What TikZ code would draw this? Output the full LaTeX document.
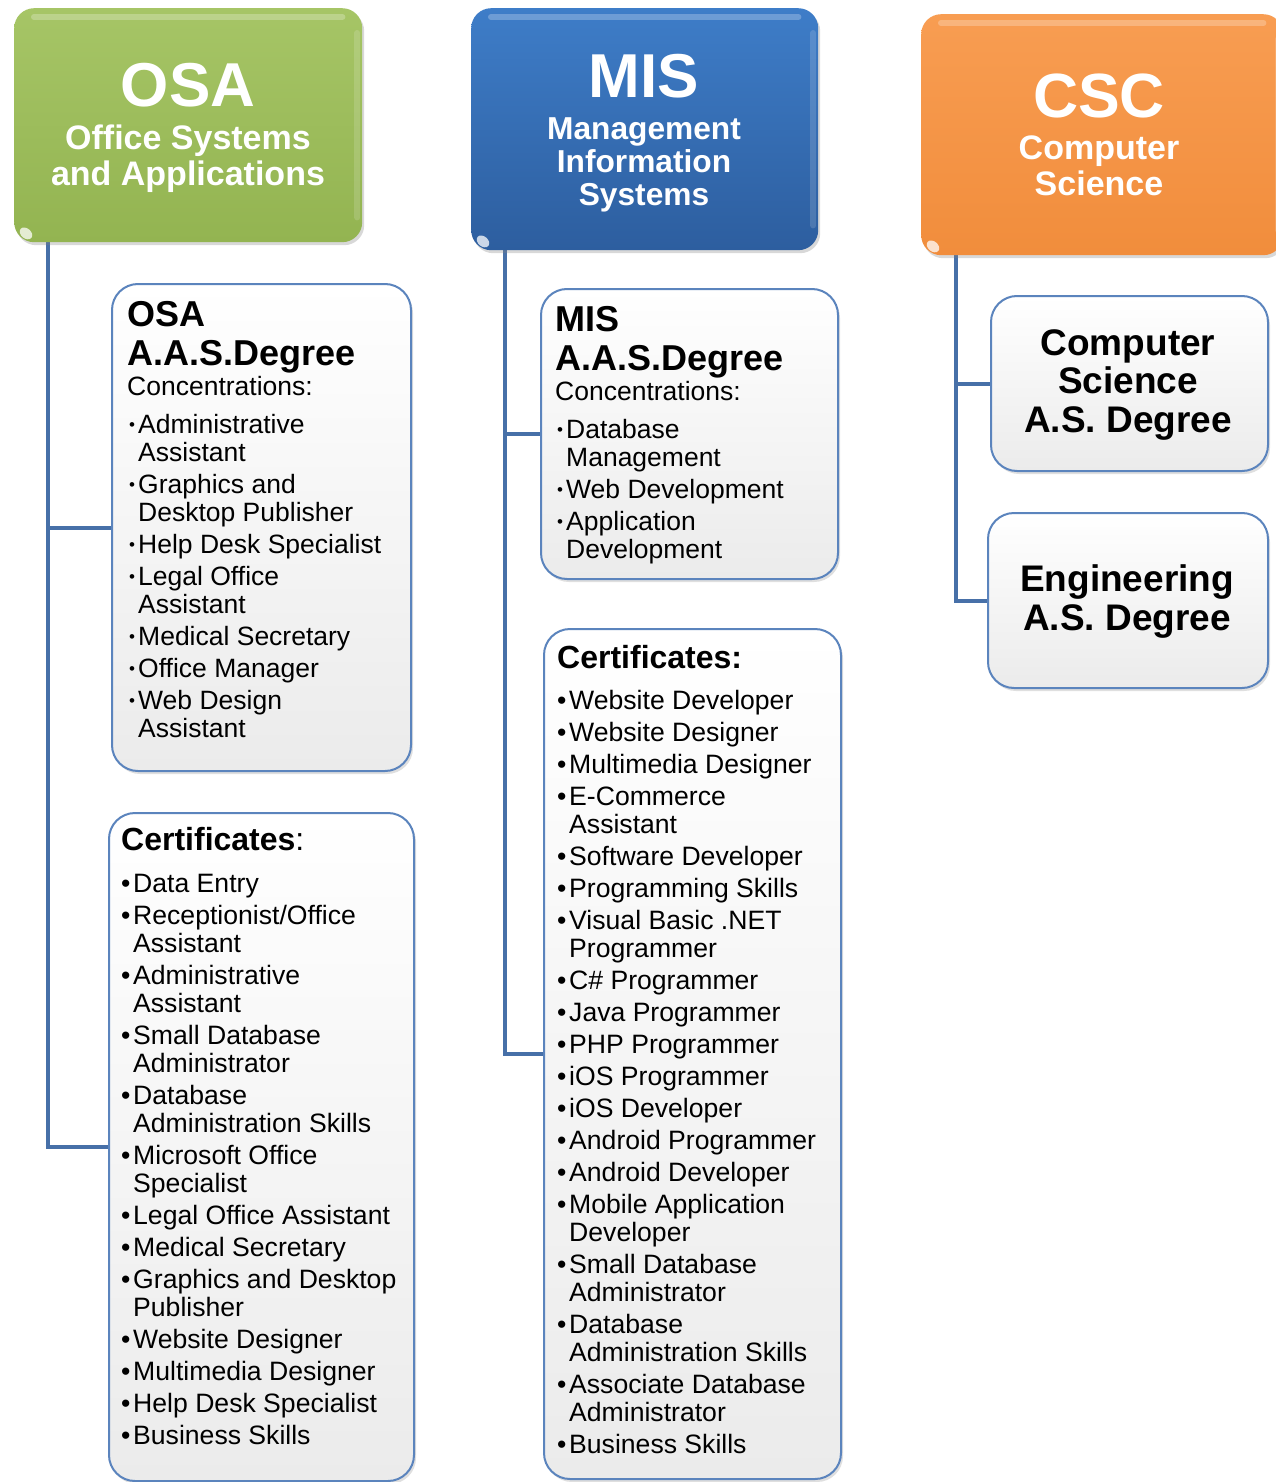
\documentclass[tikz,border=0pt]{standalone}
\usepackage{fontspec}
\setmainfont{Liberation Sans}
\usetikzlibrary{shadows,backgrounds}
\definecolor{osaTop}{HTML}{A6C566}
\definecolor{osaBot}{HTML}{93B451}
\definecolor{misTop}{HTML}{3E7DC8}
\definecolor{misBot}{HTML}{2D5E9F}
\definecolor{cscTop}{HTML}{F89D52}
\definecolor{cscBot}{HTML}{F18D3C}
\definecolor{boxline}{HTML}{5B84BD}
\definecolor{boxbot}{HTML}{EBEBEB}
\definecolor{connc}{HTML}{4770A8}
\newcommand{\dgi}[1]{\par\hangindent=11pt\hangafter=1\noindent\makebox[11pt][l]{\hspace{2pt}\raisebox{2.5pt}{\fontsize{17}{17}\selectfont •}}{\def\\{\hfil\break}#1}\par}
\newcommand{\cti}[1]{\par\hangindent=12pt\hangafter=1\noindent\makebox[12pt][l]{•}{\def\\{\hfil\break}#1}\par}
\begin{document}
\begin{tikzpicture}[x=1pt,y=-1pt,
  hdr/.style={anchor=north west, rounded corners=20pt, inner sep=0pt, draw=none,
    drop shadow={opacity=0.3, shadow xshift=2pt, shadow yshift=-3pt}},
  cbox/.style={anchor=north west, draw=boxline, line width=2pt, rounded corners=26pt,
    top color=white, bottom color=boxbot, inner sep=0pt,
    drop shadow={opacity=0.25, shadow xshift=2pt, shadow yshift=-3pt}},
  conn/.style={draw=connc, line width=4pt},
  txt/.style={anchor=base west, inner sep=0pt},
  htxt/.style={anchor=base, inner sep=0pt},
  gloss/.style={draw=white, opacity=0.25, line width=6pt, line cap=round},
  glossdot/.style={fill=white, opacity=0.75}
]
\useasboundingbox (0,0) rectangle (1275,1482);

% header boxes
\node[hdr, top color=osaTop, bottom color=osaBot, minimum width=348pt, minimum height=234pt] (osa) at (14,8) {};
\node[hdr, top color=misTop, bottom color=misBot, minimum width=347pt, minimum height=242pt] (mis) at (471,8) {};
\node[hdr, top color=cscTop, bottom color=cscBot, minimum width=362pt, minimum height=241pt] (csc) at (921,14) {};

\foreach \h in {osa,mis,csc}{
  \draw[gloss] ([shift={(20,9)}]\h.north west) -- ([shift={(-20,9)}]\h.north east);
  \draw[gloss, opacity=0.15] ([shift={(-5,25)}]\h.north east) -- ([shift={(-5,-25)}]\h.south east);
  \fill[glossdot] ([shift={(12,-9)}]\h.south west) ellipse [x radius=7pt, y radius=5pt, rotate=-40];
}

% header texts
\node[htxt, text=white] (osatxt) at (188,107) {\begin{minipage}[t]{340pt}\centering\bfseries
  \fontsize{62}{62}\selectfont OSA\par
  \fontsize{34}{43}\selectfont Office Systems\par
  \fontsize{34}{36}\selectfont and Applications\par\end{minipage}};
\node[htxt, text=white] (mistxt) at (644,98) {\begin{minipage}[t]{340pt}\centering\bfseries
  \fontsize{62}{62}\selectfont MIS\par
  \fontsize{31.7}{42}\selectfont Management\par
  \fontsize{31.7}{33}\selectfont Information\par Systems\par\end{minipage}};
\node[htxt, text=white] (csctxt) at (1099,118) {\begin{minipage}[t]{340pt}\centering\bfseries
  \fontsize{62.5}{62}\selectfont CSC\par
  \fontsize{34}{42}\selectfont Computer\par
  \fontsize{34}{36}\selectfont Science\par\end{minipage}};

% content boxes
\node[cbox, minimum width=299pt, minimum height=487pt] (osadeg) at (111,283) {};
\node[cbox, minimum width=305pt, minimum height=668pt] (osacert) at (108,812) {};
\node[cbox, minimum width=297pt, minimum height=290pt] (misdeg) at (540,288) {};
\node[cbox, minimum width=297pt, minimum height=850pt] (miscert) at (543,628) {};
\node[cbox, minimum width=277pt, minimum height=175pt] (csdeg) at (990,295) {};
\node[cbox, minimum width=280pt, minimum height=175pt] (engdeg) at (987,512) {};

% OSA degree text
\node[txt] (osadegtxt) at (127,326) {\begin{minipage}[t]{275pt}\raggedright
  \fontsize{36}{39}\selectfont\bfseries OSA\par A.A.S.Degree\par
  \mdseries\fontsize{26.5}{30}\selectfont Concentrations:\par
  \fontsize{26.5}{28}\selectfont\parskip=4pt\vspace*{6pt}%
  \dgi{Administrative\\Assistant}
  \dgi{Graphics and\\Desktop Publisher}
  \dgi{Help Desk Specialist}
  \dgi{Legal Office\\Assistant}
  \dgi{Medical Secretary}
  \dgi{Office Manager}
  \dgi{Web Design\\Assistant}
\end{minipage}};

% OSA certificates text
\node[txt] (osacerttxt) at (121,850) {\begin{minipage}[t]{285pt}\raggedright
  \fontsize{32}{32}\selectfont{\bfseries Certificates}:\par
  \fontsize{26.6}{28}\selectfont\parskip=4pt\vspace*{10pt}%
  \cti{Data Entry}
  \cti{Receptionist/Office\\Assistant}
  \cti{Administrative\\Assistant}
  \cti{Small Database\\Administrator}
  \cti{Database\\Administration Skills}
  \cti{Microsoft Office\\Specialist}
  \cti{Legal Office Assistant}
  \cti{Medical Secretary}
  \cti{Graphics and Desktop\\Publisher}
  \cti{Website Designer}
  \cti{Multimedia Designer}
  \cti{Help Desk Specialist}
  \cti{Business Skills}
\end{minipage}};

% MIS degree text
\node[txt] (misdegtxt) at (555,331) {\begin{minipage}[t]{275pt}\raggedright
  \fontsize{36}{39}\selectfont\bfseries MIS\par A.A.S.Degree\par
  \mdseries\fontsize{26.5}{30}\selectfont Concentrations:\par
  \fontsize{26.5}{28}\selectfont\parskip=4pt\vspace*{6pt}%
  \dgi{Database\\Management}
  \dgi{Web Development}
  \dgi{Application\\Development}
\end{minipage}};

% MIS certificates text
\node[txt] (miscerttxt) at (557,668) {\begin{minipage}[t]{280pt}\raggedright
  \fontsize{32}{32}\selectfont\bfseries Certificates:\par
  \mdseries\fontsize{26.6}{28}\selectfont\parskip=4pt\vspace*{9pt}%
  \cti{Website Developer}
  \cti{Website Designer}
  \cti{Multimedia Designer}
  \cti{E-Commerce\\Assistant}
  \cti{Software Developer}
  \cti{Programming Skills}
  \cti{Visual Basic .NET\\Programmer}
  \cti{C\# Programmer}
  \cti{Java Programmer}
  \cti{PHP Programmer}
  \cti{iOS Programmer}
  \cti{iOS Developer}
  \cti{Android Programmer}
  \cti{Android Developer}
  \cti{Mobile Application\\Developer}
  \cti{Small Database\\Administrator}
  \cti{Database\\Administration Skills}
  \cti{Associate Database\\Administrator}
  \cti{Business Skills}
\end{minipage}};

% CSC degree texts
\node[htxt] (cstxt) at (1128,355) {\begin{minipage}[t]{270pt}\centering\bfseries
  \fontsize{37}{38.5}\selectfont Computer\par Science\par A.S. Degree\par\end{minipage}};
\node[htxt] (engtxt) at (1127,591) {\begin{minipage}[t]{270pt}\centering\bfseries
  \fontsize{37}{39}\selectfont Engineering\par A.S. Degree\par\end{minipage}};

% connectors and background
\begin{pgfonlayer}{background}
  \fill[white] (0,0) rectangle (1275,1482);
  \draw[conn] ([xshift=34pt]osa.south west) |- (osadeg.west);
  \draw[conn] ([xshift=34pt]osa.south west) |- (osacert.west);
  \draw[conn] ([xshift=34pt]mis.south west) |- (misdeg.west);
  \draw[conn] ([xshift=34pt]mis.south west) |- (miscert.west);
  \draw[conn] ([xshift=35pt]csc.south west) |- (csdeg.west);
  \draw[conn] ([xshift=35pt]csc.south west) |- (engdeg.west);
\end{pgfonlayer}
\end{tikzpicture}
\end{document}
